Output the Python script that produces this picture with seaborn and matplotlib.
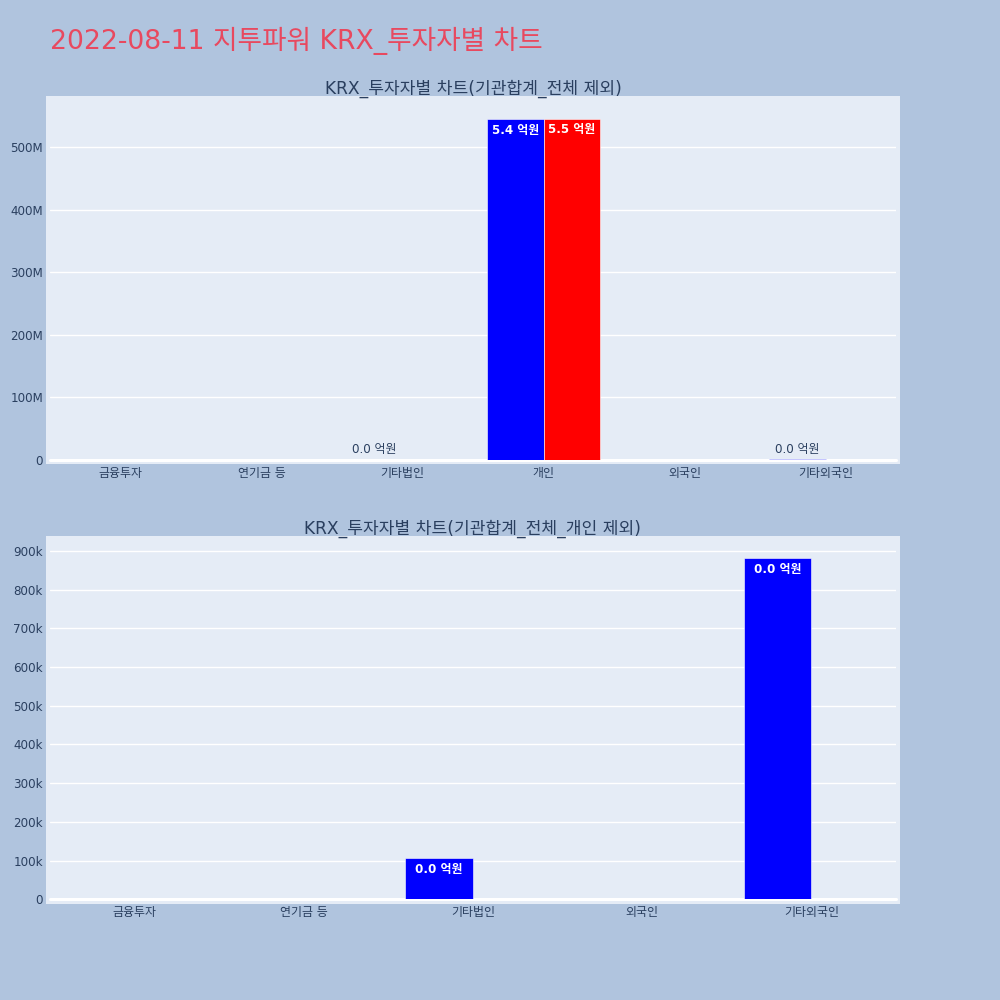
import numpy as np
import pandas as pd
import matplotlib
matplotlib.use("Agg")
import matplotlib.pyplot as plt
from matplotlib.ticker import FuncFormatter
import seaborn as sns

sns.set_theme(style="white")
plt.rcParams['font.family'] = ['DejaVu Sans', 'Noto Sans CJK KR']

# ---- data ----
main_title = "2022-08-11 지투파워 KRX_투자자별 차트"
top_title = "KRX_투자자별 차트(기관합계_전체 제외)"
bottom_title = "KRX_투자자별 차트(기관합계_전체_개인 제외)"
series_names = ["매수", "매도"]
top_categories = ["금융투자", "연기금 등", "기타법인", "개인", "외국인", "기타외국인"]
top_buy = [np.nan, np.nan, 106000, 544800000, np.nan, 881000]
top_sell = [np.nan, np.nan, np.nan, 545300000, np.nan, np.nan]
bottom_categories = ["금융투자", "연기금 등", "기타법인", "외국인", "기타외국인"]
bottom_buy = [np.nan, np.nan, 106000, np.nan, 881000]
bottom_sell = [np.nan, np.nan, np.nan, np.nan, np.nan]
top_ticks = [0, 100e6, 200e6, 300e6, 400e6, 500e6]
bottom_ticks = [0, 100e3, 200e3, 300e3, 400e3, 500e3, 600e3, 700e3, 800e3, 900e3]

BG = "#B0C4DE"
PLOT_BG = "#E5ECF6"
TXT = "#2a3f5f"
colors = {"매수": "#0000FF", "매도": "#FF0000"}

fig = plt.figure(figsize=(10, 10), dpi=100)
fig.patch.set_facecolor(BG)

def px_rect(x0, y0, x1, y1):
    # pixel coords (top-left origin) -> figure fraction rect
    return [x0 / 1000, 1 - y1 / 1000, (x1 - x0) / 1000, (y1 - y0) / 1000]

def make_df(cats, buy, sell):
    rows = []
    for c, b, s in zip(cats, buy, sell):
        rows.append({"cat": c, "series": series_names[0], "value": b})
        rows.append({"cat": c, "series": series_names[1], "value": s})
    return pd.DataFrame(rows)

def draw(ax, cats, buy, sell, ticks, ylim, fmt, title, title_y):
    df = make_df(cats, buy, sell)
    ax.set_facecolor("none")
    ax.set_axisbelow(True)
    for t in ticks[1:]:
        ax.axhline(t, color="white", lw=1, zorder=0)
    ax.axhline(0, color="white", lw=2.2, zorder=0.5, clip_on=False)
    sns.barplot(data=df, x="cat", y="value", hue="series", order=cats,
                hue_order=series_names, palette=colors, width=0.8,
                errorbar=None, ax=ax, legend=False, saturation=1,
                edgecolor="#ffffff", linewidth=0.4, zorder=2)
    ax.set_xlim(-0.5, len(cats) - 0.5)
    ax.set_ylim(*ylim)
    ax.set_yticks(ticks)
    ax.yaxis.set_major_formatter(FuncFormatter(fmt))
    ax.set_xlabel("")
    ax.set_ylabel("")
    ax.grid(False)
    for s in ax.spines.values():
        s.set_visible(False)
    ax.tick_params(axis="both", length=0, labelsize=8.6, labelcolor=TXT)
    ax.tick_params(axis="x", pad=5)
    ax.tick_params(axis="y", pad=5)
    trans = ax.transData
    for p in ax.patches:
        h = p.get_height()
        if h is None or np.isnan(h) or p.get_width() == 0:
            continue
        x = p.get_x() + p.get_width() / 2
        label = f"{h / 1e8:.1f} 억원"
        y0 = trans.transform((0, 0))[1]
        y1 = trans.transform((0, h))[1]
        if y1 - y0 > 22:
            ax.annotate(label, (x, h), xytext=(0, -3.5), textcoords="offset points",
                        ha="center", va="top", color="white", fontsize=8.6,
                        fontweight="bold", zorder=5)
        else:
            ax.annotate(label, (x, h), xytext=(0, 2.5), textcoords="offset points",
                        ha="center", va="bottom", color=TXT, fontsize=8.6, zorder=5)
    fig.text(0.473, title_y, title, ha="center", va="center", fontsize=12.3, color=TXT)

def fmt_top(v, pos):
    return "0" if v == 0 else f"{int(round(v / 1e6))}M"

def fmt_bottom(v, pos):
    return "0" if v == 0 else f"{int(round(v / 1e3))}k"

# plot backgrounds (slightly larger than the data area)
for r in (px_rect(46, 96, 900, 464), px_rect(46, 536, 900, 903.5)):
    bg = fig.add_axes(r, zorder=-5)
    bg.set_facecolor(PLOT_BG)
    bg.set_xticks([])
    bg.set_yticks([])
    for s in bg.spines.values():
        s.set_visible(False)

ax1 = fig.add_axes(px_rect(50, 100, 896, 460))
draw(ax1, top_categories, top_buy, top_sell, top_ticks, (0, 575e6), fmt_top, top_title, 1 - 0.089)

ax2 = fig.add_axes(px_rect(50, 540, 896, 899.3))
draw(ax2, bottom_categories, bottom_buy, bottom_sell, bottom_ticks, (0, 928e3), fmt_bottom, bottom_title, 1 - 0.529)

fig.text(0.05, 1 - 0.041, main_title, ha="left", va="center", fontsize=19.2, color="#E8495F")

fig.savefig("out.png", dpi=100, facecolor=BG)
